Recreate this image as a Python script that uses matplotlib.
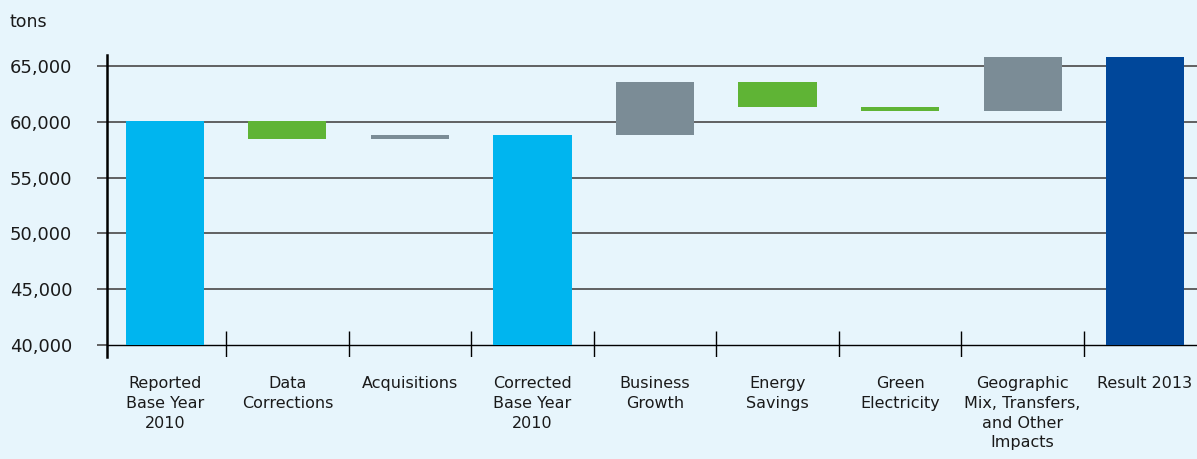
import numpy as np
import matplotlib.pyplot as plt

# waterfall data (tons)
categories = ['Reported\nBase Year\n2010', 'Data\nCorrections', 'Acquisitions',
              'Corrected\nBase Year\n2010', 'Business\nGrowth', 'Energy\nSavings',
              'Green\nElectricity', 'Geographic\nMix, Transfers,\nand Other\nImpacts',
              'Result 2013']
start_value = 60050
changes = [-1600, 350, None, 4750, -2250, -350, 4850, None]
kinds = ['total', 'down', 'up', 'total', 'up', 'down', 'down', 'up', 'final']
yticks = [40000, 45000, 50000, 55000, 60000, 65000]

colors = {'total': '#00b5ef', 'up': '#7b8c96', 'down': '#5fb435', 'final': '#00479a'}
bg = '#e7f5fc'
base = 40000

fig = plt.figure(figsize=(11.97, 4.59), dpi=100, facecolor=bg)
ax = fig.add_axes([107 / 1197, (459 - 357) / 459, 1 - 107 / 1197, (357 - 55) / 459])
ax.set_facecolor(bg)

# build bottoms / heights
bottoms, heights = [], []
level = start_value
bottoms.append(base)
heights.append(level - base)
for ch, kind in zip(changes, kinds[1:]):
    if ch is None:
        bottoms.append(base)
        heights.append(level - base)
    else:
        new = level + ch
        bottoms.append(min(level, new))
        heights.append(abs(ch))
        level = new

x = np.arange(len(categories))
ax.set_xlim(-0.473, 8.424)
ax.set_ylim(38926, 65985)

for yv in yticks[1:]:
    ax.axhline(yv, color='#555555', lw=1.3, zorder=1)
ax.axhline(base, color='black', lw=1.0, zorder=1)

ax.bar(x, heights, bottom=bottoms, width=0.637,
       color=[colors[k] for k in kinds], zorder=3)

# category separators
ax.vlines(x[:-1] + 0.5, 38926, 41250, color='black', lw=1.0, zorder=2)

for s in ['top', 'right', 'bottom']:
    ax.spines[s].set_visible(False)
ax.spines['left'].set_linewidth(1.8)
ax.spines['left'].set_color('black')

ax.set_yticks(yticks)
ax.set_yticklabels(['{:,}'.format(v) for v in yticks])
ax.tick_params(axis='y', length=7, width=1.3, color='#555555', pad=18,
               labelsize=13, labelcolor='#1a1a1a')
ax.set_xticks(x)
ax.set_xticklabels(categories, fontsize=11.5, color='#1a1a1a', linespacing=1.38,
                   va='top')
ax.tick_params(axis='x', length=0, pad=14)

fig.text(10 / 1197, 1 - 22 / 459, 'tons', fontsize=12.5, color='#1a1a1a',
         ha='left', va='center')

fig.savefig('out.png', dpi=100, facecolor=bg)
